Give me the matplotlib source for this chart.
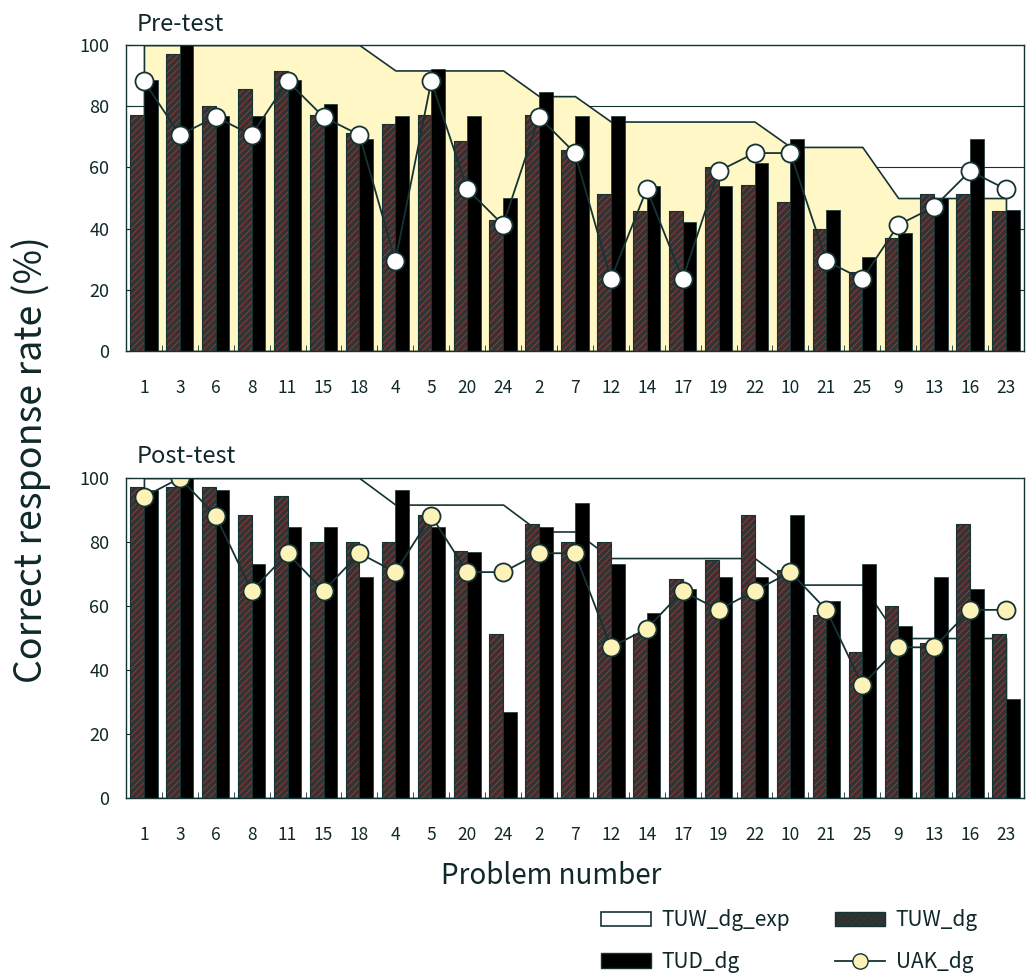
import numpy as np
import matplotlib.pyplot as plt
from matplotlib.patches import Patch
from matplotlib.lines import Line2D

plt.rcParams['font.family'] = ['Noto Sans CJK JP', 'DejaVu Sans']
plt.rcParams['hatch.linewidth'] = 0.5

# problem order on the x axis
problems = ["1", "3", "6", "8", "11", "15", "18", "4", "5", "20", "24", "2", "7",
            "12", "14", "17", "19", "22", "10", "21", "25", "9", "13", "16", "23"]

# expected rate (same in both tests)
tuw_exp = [100, 100, 100, 100, 100, 100, 100, 91.7, 91.7, 91.7, 91.7, 83.3, 83.3,
           75, 75, 75, 75, 75, 66.7, 66.7, 66.7, 50, 50, 50, 50]

# pre-test
pre_tuw = [77.1, 97.1, 80.0, 85.7, 91.4, 77.1, 71.4, 74.3, 77.1, 68.6, 42.9, 77.1, 65.7,
           51.4, 45.7, 45.7, 60.0, 54.3, 48.6, 40.0, 25.7, 37.1, 51.4, 51.4, 45.7]
pre_tud = [88.5, 100, 76.9, 76.9, 88.5, 80.8, 69.2, 76.9, 92.3, 76.9, 50.0, 84.6, 76.9,
           76.9, 53.8, 42.3, 53.8, 61.5, 69.2, 46.2, 30.8, 38.5, 50.0, 69.2, 46.2]
pre_uak = [88.2, 70.6, 76.5, 70.6, 88.2, 76.5, 70.6, 29.4, 88.2, 52.9, 41.2, 76.5, 64.7,
           23.5, 52.9, 23.5, 58.8, 64.7, 64.7, 29.4, 23.5, 41.2, 47.1, 58.8, 52.9]

# post-test
post_tuw = [97.1, 97.1, 97.1, 88.6, 94.3, 80.0, 80.0, 80.0, 88.6, 77.1, 51.4, 85.7, 80.0,
            80.0, 51.4, 68.6, 74.3, 88.6, 71.4, 57.1, 45.7, 60.0, 48.6, 85.7, 51.4]
post_tud = [96.2, 100, 96.2, 73.1, 84.6, 84.6, 69.2, 96.2, 84.6, 76.9, 26.9, 84.6, 92.3,
            73.1, 57.7, 65.4, 69.2, 69.2, 88.5, 61.5, 73.1, 53.8, 69.2, 65.4, 30.8]
post_uak = [94.1, 100, 88.2, 64.7, 76.5, 64.7, 76.5, 70.6, 88.2, 70.6, 70.6, 76.5, 76.5,
            47.1, 52.9, 64.7, 58.8, 64.7, 70.6, 58.8, 35.3, 47.1, 47.1, 58.8, 58.8]

DARK = "#163333"
HATCH_RED = "#b33a3a"
BAR_GRAY = "#333333"
YELLOW = "#fff8c6"
TXT = "#102828"


def draw_panel(ax, tuw, tud, uak, area_color, marker_color, title, grid):
    x = np.arange(len(problems))
    w = 0.38
    if grid:
        for g in [20, 40, 60, 80]:
            ax.axhline(g, color=DARK, lw=0.8, zorder=0.5)
    ax.fill_between(x, tuw_exp, 0, facecolor=area_color, edgecolor=DARK,
                    linewidth=1.2, zorder=1)
    # hatched bars: dark fill, red hatch, then a dark outline
    ax.bar(x - w / 2, tuw, w, color=BAR_GRAY, edgecolor=HATCH_RED, hatch="/////",
           linewidth=0, zorder=2)
    ax.bar(x - w / 2, tuw, w, fill=False, edgecolor=DARK, linewidth=0.8, zorder=2.1)
    ax.bar(x + w / 2, tud, w, color="black", edgecolor=DARK, linewidth=0.5, zorder=2)
    ax.plot(x, uak, color=DARK, lw=1.3, marker="o", ms=13, mfc=marker_color,
            mec=DARK, mew=1.3, zorder=3)

    ax.set_xlim(-0.5, len(problems) - 0.5)
    ax.set_ylim(0, 100)
    ax.set_yticks([0, 20, 40, 60, 80, 100])
    ax.set_xticks(x)
    ax.set_xticklabels(problems)
    ax.set_xticks(np.arange(len(problems) + 1) - 0.5, minor=True)
    ax.tick_params(axis="x", which="major", length=0, pad=20, labelsize=12.5, colors=TXT)
    ax.tick_params(axis="x", which="minor", direction="in", length=4, color=DARK)
    ax.tick_params(axis="y", direction="in", length=4, pad=12, labelsize=13,
                   colors=TXT, color=DARK)
    for s in ax.spines.values():
        s.set_color(DARK)
        s.set_linewidth(1.0)
        s.set_zorder(4)
    ax.text(0.012, 1.03, title, transform=ax.transAxes, fontsize=17, color=TXT,
            ha="left", va="bottom")


fig = plt.figure(figsize=(10.30, 9.77), dpi=100)
ax1 = fig.add_axes([0.1223, 0.6407, 0.8718, 0.3132])
ax2 = fig.add_axes([0.1223, 0.1832, 0.8718, 0.3275])

draw_panel(ax1, pre_tuw, pre_tud, pre_uak, YELLOW, "white", "Pre-test", True)
draw_panel(ax2, post_tuw, post_tud, post_uak, "white", "#fdf3b8", "Post-test", False)

fig.text(0.03, 0.53, "Correct response rate (%)", rotation=90, fontsize=27,
         color=TXT, ha="center", va="center")
fig.text(0.535, 0.103, "Problem number", fontsize=20, color=TXT,
         ha="center", va="center")

handles = [
    Patch(facecolor="white", edgecolor=DARK, linewidth=1.2, label="TUW_dg_exp"),
    Patch(facecolor="black", edgecolor=DARK, label="TUD_dg"),
    Patch(facecolor=BAR_GRAY, edgecolor=DARK, hatch="/////", label="TUW_dg"),
    Line2D([], [], color=DARK, lw=1.3, marker="o", ms=11, mfc="#fdf3b8",
           mec=DARK, label="UAK_dg"),
]
fig.legend(handles=handles, ncol=2, loc="upper left", bbox_to_anchor=(0.575, 0.078),
           frameon=False, fontsize=15, handlelength=2.4, handletextpad=0.5,
           columnspacing=2.2, labelspacing=0.95, labelcolor=TXT, borderaxespad=0)

fig.savefig("out.png", dpi=100)
